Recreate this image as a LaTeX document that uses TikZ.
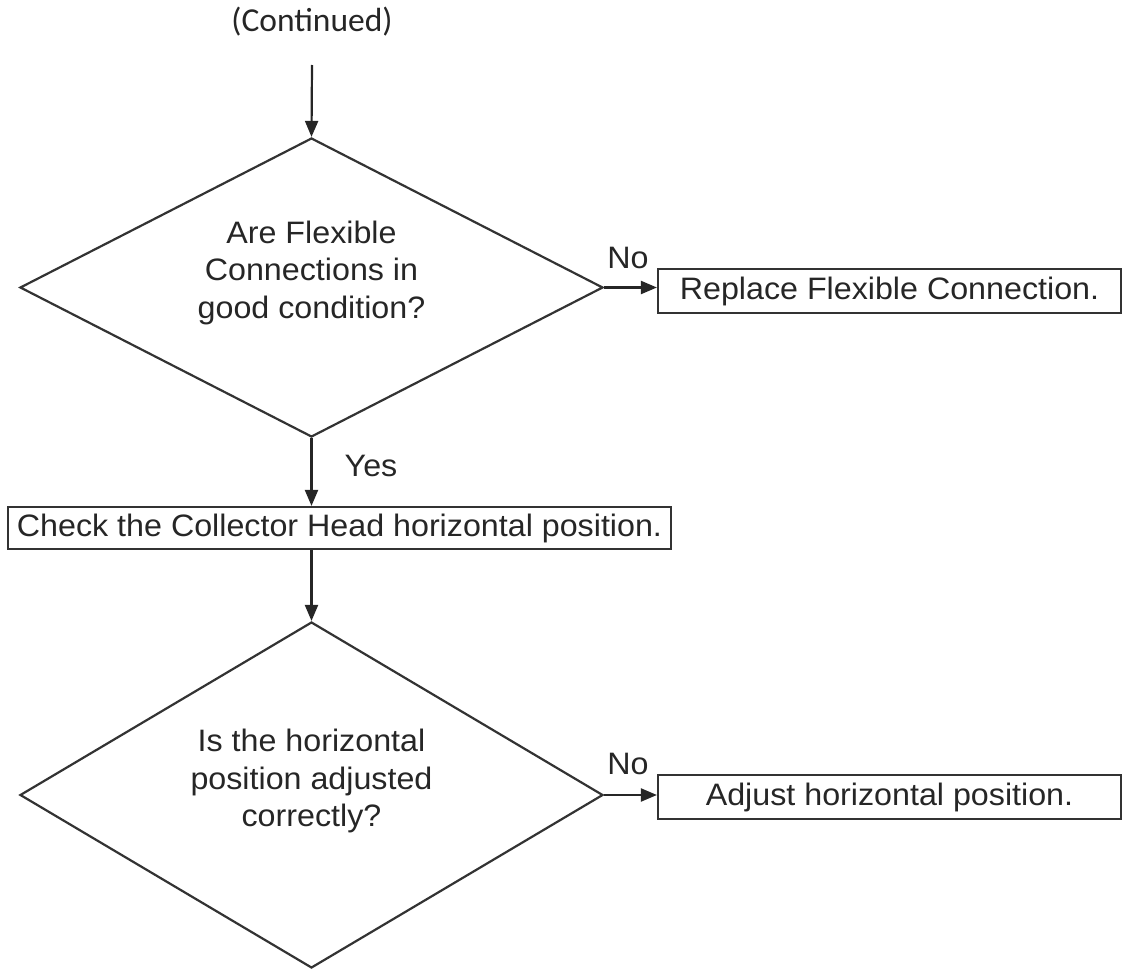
\documentclass[tikz,border=0pt]{standalone}
\usepackage{fontspec}
\setmainfont[FakeStretch=1.04]{Liberation Sans}
\newfontfamily\contfont{Carlito}
\usetikzlibrary{shapes.geometric,arrows.meta}
\begin{document}
\begin{tikzpicture}[x=1pt,y=-1pt,
  line width=2.2pt,
  every node/.style={font=\fontsize{31}{37.5}\selectfont, text=black!85},
  flowline/.style={draw=black!85, -{Triangle[length=16pt,width=13pt]}},
  decision/.style={draw=black!80, diamond, aspect=1.95, inner sep=0pt, minimum width=583pt},
  decisiontext/.style={align=center, inner sep=0pt},
  actionbox/.style={draw=black!80, rectangle, inner sep=0pt, minimum height=44pt},
  branchlabel/.style={inner sep=0pt}]
\useasboundingbox (0,0) rectangle (1128,971);

% entry from the previous page
\node (cont) at (312,22) {\contfont\fontsize{33.5}{38}\selectfont (Continued)};
\coordinate (start) at (312,65);

% first check
\node[decision, minimum height=299pt] (d1) at (311.5,287.5) {};
\node[decisiontext] (q1) at ([yshift=15pt]d1.center) {Are Flexible\\Connections in\\good condition?};
\node[actionbox, minimum width=463pt] (b1) at (889.5,291) {Replace Flexible Connection.};

\node[actionbox, minimum width=663pt, minimum height=42pt] (b2) at (339.5,528) {Check the Collector Head horizontal position.};

% second check
\node[decision, minimum height=346pt] (d2) at (311.5,795) {};
\node[decisiontext] (q2) at ([yshift=14pt]d2.center) {Is the horizontal\\position adjusted\\correctly?};
\node[actionbox, minimum width=463pt] (b3) at (889.5,797) {Adjust horizontal position.};

% connectors
\draw[flowline] (start) -- (d1.north);
\draw[flowline] (d1.east) -- (d1.east -| b1.west);
\draw[flowline] (d1.south) -- (d1.south |- b2.north);
\draw[flowline] (d1.south |- b2.south) -- (d2.north);
\draw[flowline] (d2.east) -- (d2.east -| b3.west);

% branch labels
\node[branchlabel] (no1) at (628,258) {No};
\node[branchlabel] (yes1) at (371,466) {Yes};
\node[branchlabel] (no2) at (628,764) {No};
\end{tikzpicture}
\end{document}
